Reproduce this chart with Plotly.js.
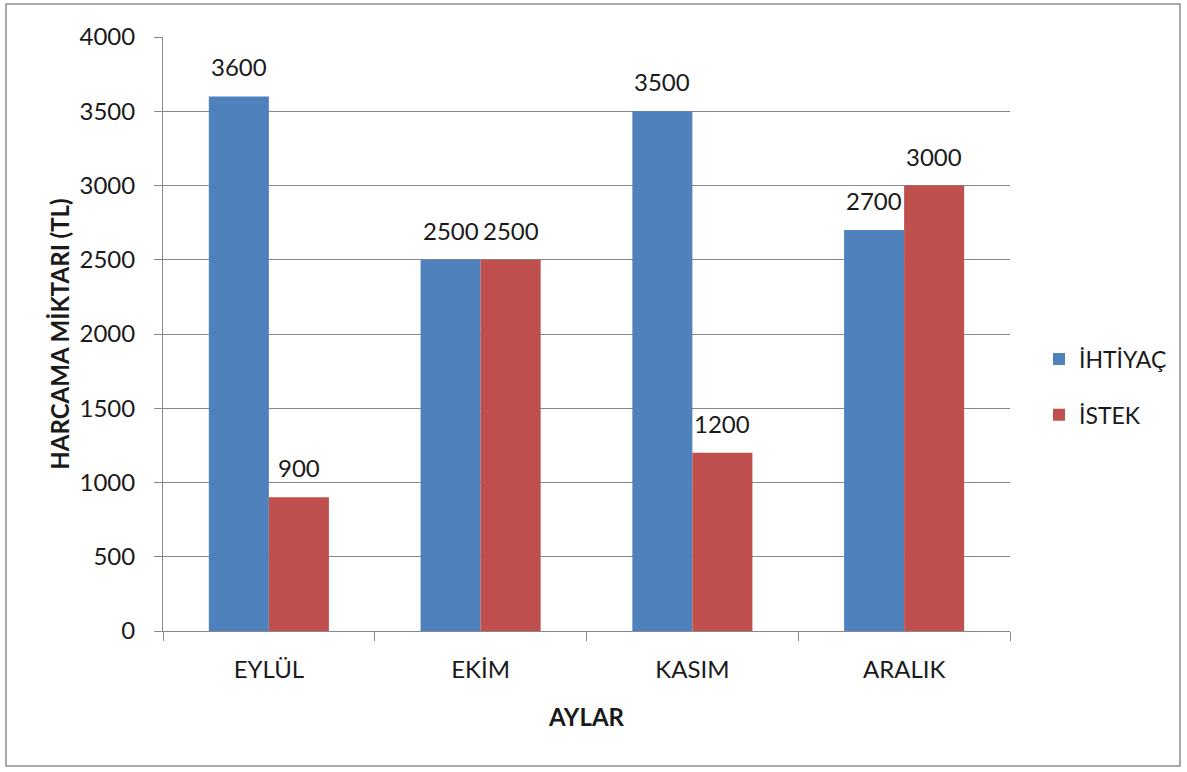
<!DOCTYPE html>
<html>
<head>
<meta charset="utf-8">
<script src="https://cdn.plot.ly/plotly-3.0.1.min.js"></script>
<style>html,body{margin:0;padding:0;background:#fff;}#chart{width:1187px;height:772px;}</style>
</head>
<body>
<div id="chart"></div>
<script>
const months = ["EYLÜL", "EKİM", "KASIM", "ARALIK"];
const ihtiyac = [3600, 2500, 3500, 2700];
const istek = [900, 2500, 1200, 3000];
const seriesNames = ["İHTİYAÇ", "İSTEK"];
const yTicks = [0, 500, 1000, 1500, 2000, 2500, 3000, 3500, 4000];

const FONT = "Lato, 'Open Sans', sans-serif";
const TXT = "#1a1a1a";
const ml = 163, mr = 177, mt = 37, mb = 141, W = 1187, H = 772;
const pw = W - ml - mr, ph = H - mt - mb;

function barTrace(vals, name, color, grp) {
  return {
    type: "bar", x: months, y: vals, name: name, legendgroup: grp,
    marker: {color: color}, hoverinfo: "x+y"
  };
}

const data = [
  barTrace(ihtiyac, seriesNames[0], "#4F81BD", "a"),
  barTrace(istek, seriesNames[1], "#C0504D", "b")
];

const annotations = [];
[[ihtiyac, -30], [istek, 30]].forEach(([vals, dx]) => {
  vals.forEach((v, i) => {
    annotations.push({
      x: months[i], y: v, xref: "x", yref: "y", text: String(v),
      showarrow: false, xshift: dx, yanchor: "bottom", yshift: 13,
      font: {family: FONT, size: 24, color: TXT}
    });
  });
});

const layout = {
  width: W, height: H,
  margin: {l: ml, r: mr, t: mt, b: mb, pad: 0, autoexpand: false},
  paper_bgcolor: "#fff", plot_bgcolor: "#fff",
  font: {family: FONT, size: 24, color: TXT},
  barmode: "group", bargap: 0.433, bargroupgap: 0,
  showlegend: true,
  legend: {
    x: (1039 - ml) / pw, xref: "paper", y: (631 - 387) / ph, yanchor: "middle",
    font: {family: FONT, size: 23, color: TXT},
    traceorder: "grouped", tracegroupgap: 23,
    itemwidth: 30, bgcolor: "rgba(0,0,0,0)"
  },
  xaxis: {
    type: "category", tickson: "boundaries",
    ticks: "outside", ticklen: 9, tickcolor: "#888", tickwidth: 1,
    showline: true, linecolor: "#888", linewidth: 1,
    showgrid: false, zeroline: false,
    tickfont: {family: FONT, size: 24, color: TXT},
    ticklabelstandoff: 17,
    title: {text: "<b>AYLAR</b>", font: {family: FONT, size: 24, color: TXT}, standoff: 27}
  },
  yaxis: {
    range: [0, 4000], tickvals: yTicks, ticktext: yTicks.map(String),
    ticks: "outside", ticklen: 8, tickcolor: "#888", tickwidth: 1,
    showline: true, linecolor: "#888", linewidth: 1,
    showgrid: true, gridcolor: "#888", gridwidth: 1, zeroline: false,
    tickfont: {family: FONT, size: 24, color: TXT},
    ticklabelstandoff: 14,
    title: {text: "<b>HARCAMA MİKTARI (TL)</b>", font: {family: FONT, size: 24, color: TXT}, standoff: 3}
  },
  annotations: annotations,
  shapes: [{
    type: "rect", xref: "paper", yref: "paper",
    x0: (6 - ml) / pw, x1: (1180 - ml) / pw,
    y0: (H - 766 - mb) / ph, y1: (H - 4 - mb) / ph,
    line: {color: "#8c8c8c", width: 1.5}, fillcolor: "rgba(0,0,0,0)", layer: "below"
  }]
};

Plotly.newPlot("chart", data, layout, {displayModeBar: false, staticPlot: true});
</script>
</body>
</html>
